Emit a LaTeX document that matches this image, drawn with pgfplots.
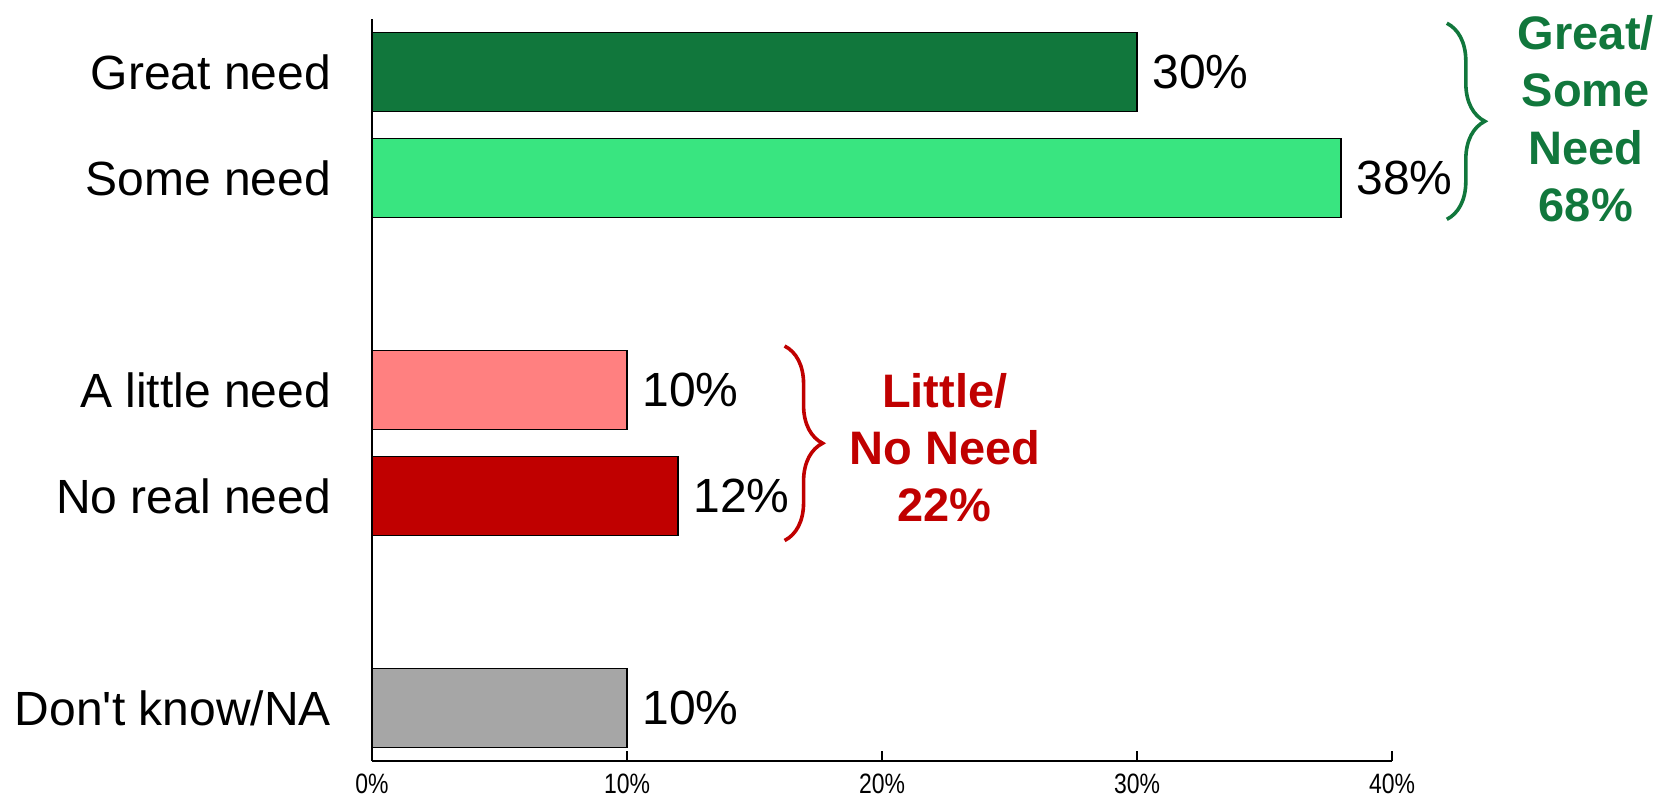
\documentclass[border=0pt]{standalone}
\usepackage{fontspec}
\setmainfont{Liberation Sans}
\newfontfamily\narrowfont[FakeStretch=0.82]{Liberation Sans}
\usepackage{pgfplots}
\pgfplotsset{compat=1.18}
\usetikzlibrary{decorations.pathreplacing}
\definecolor{dgreen}{HTML}{11773C}
\definecolor{lgreen}{HTML}{39E580}
\definecolor{lred}{HTML}{FF8080}
\definecolor{dred}{HTML}{C00000}
\definecolor{grayb}{HTML}{A6A6A6}
\begin{document}
\begin{tikzpicture}
\path[use as bounding box] (-186pt,-20.5pt) rectangle (648.5pt,380.5pt);
\begin{axis}[
  at={(0,0)}, anchor=south west,
  scale only axis, width=510pt, height=371pt,
  xmin=0, xmax=40, ymin=-0.5, ymax=6.5,
  clip=false,
  axis x line=bottom, axis y line=left,
  x axis line style={-, line width=1pt},
  y axis line style={-, line width=0.8pt},
  xtick={0,10,20,30,40},
  xticklabels={0\%,10\%,20\%,30\%,40\%},
  xtick style={black, line width=0.8pt},
  tick align=inside,
  major tick length=5pt,
  xticklabel style={font=\narrowfont\fontsize{14}{16}\selectfont, yshift=-3pt},
  ytick={0,2,3,5,6},
  yticklabels={Don\textquotesingle t know/NA, No real need, A little need, Some need, Great need},
  ytick style={draw=none},
  yticklabel style={font=\fontsize{24}{28}\selectfont, xshift=-17pt},
  bar width=0.75,
  /pgf/number format/assume math mode=true,
  point meta=x,
  nodes near coords={\pgfmathprintnumber{\pgfplotspointmeta}\%},
  every node near coord/.append style={font=\fontsize{24}{28}\selectfont, black, xshift=4pt},
]
\addplot[xbar, fill=dgreen, draw=black, line width=0.7pt] coordinates {(30,6)};
\addplot[xbar, fill=lgreen, draw=black, line width=0.7pt] coordinates {(38,5)};
\addplot[xbar, fill=lred, draw=black, line width=0.7pt] coordinates {(10,3)};
\addplot[xbar, fill=dred, draw=black, line width=0.7pt] coordinates {(12,2)};
\addplot[xbar, fill=grayb, draw=black, line width=0.7pt] coordinates {(10,0)};
\draw[dgreen, line width=1.8pt, decorate, decoration={brace, amplitude=19pt}]
  (axis cs:42.15,6.46) -- (axis cs:42.15,4.61);
\draw[dred, line width=1.8pt, decorate, decoration={brace, amplitude=19pt}]
  (axis cs:16.18,3.415) -- (axis cs:16.18,1.58);
\node[dgreen, align=center, font=\bfseries\fontsize{23.5}{28.7}\selectfont] at (axis cs:47.6,5.56) {Great/\\Some\\Need\\68\%};
\node[dred, align=center, font=\bfseries\fontsize{23.5}{28.5}\selectfont] at (axis cs:22.46,2.46) {Little/\\No Need\\22\%};
\end{axis}
\end{tikzpicture}
\end{document}
